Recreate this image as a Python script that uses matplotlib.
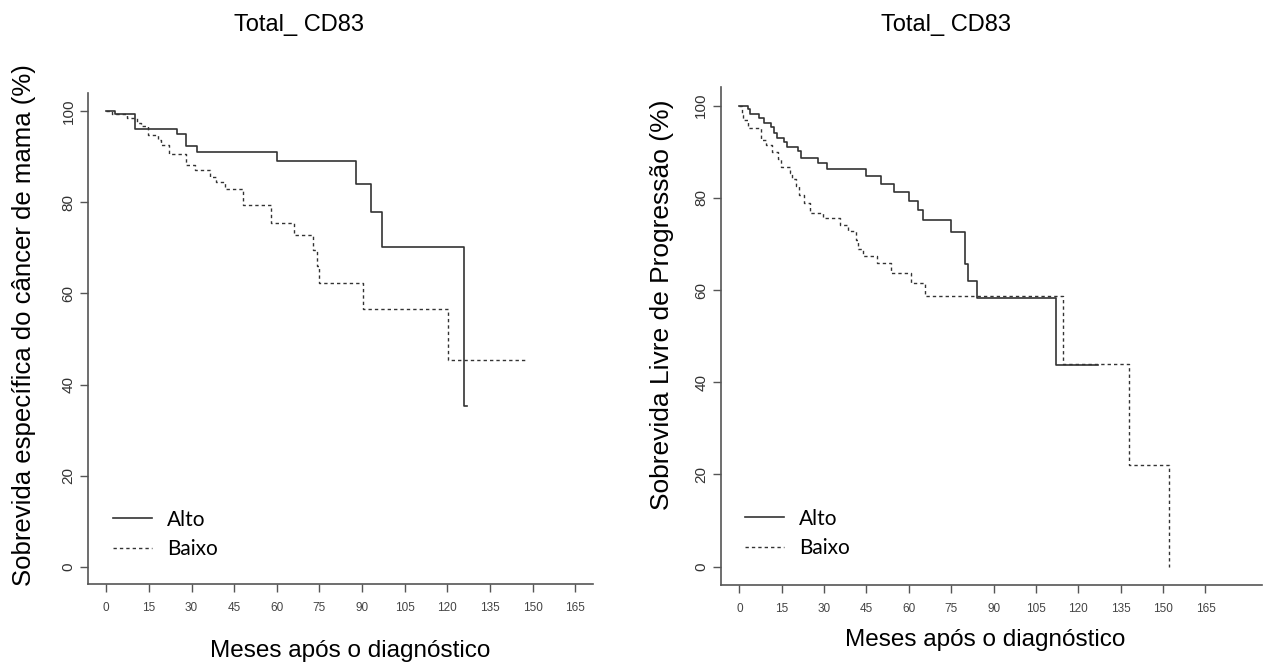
import matplotlib
matplotlib.use("Agg")
from matplotlib import pyplot as plt

# Kaplan-Meier steps (months, survival %)
css_alto_t = [0, 3, 10, 25, 28, 32, 60, 88, 93, 97, 126, 126.9]
css_alto_s = [100, 99.2, 96.0, 94.9, 92.3, 91.0, 88.9, 83.9, 77.9, 70.2, 35.3, 35.3]
css_baixo_t = [0, 2, 7.2, 10.7, 12.4, 14.7, 18.2, 19.4, 22.1, 28, 31.1, 36.4, 38.7,
               41.9, 48.1, 58.1, 66, 72.8, 74, 74.9, 90.2, 120.1, 147.2]
css_baixo_s = [100, 99.3, 98.4, 97.4, 96.6, 94.7, 93.6, 92.4, 90.6, 88.2, 87.1, 85.5, 84.3,
               82.8, 79.3, 75.5, 72.8, 69.5, 65.9, 62.3, 56.6, 45.4, 45.4]

pfs_alto_t = [0, 2.9, 3.8, 7.1, 8.9, 11.1, 12.1, 13.2, 15.8, 17.0, 20.9, 21.8, 28.0,
              31.2, 44.9, 50.1, 54.9, 60.1, 63.1, 65.0, 74.9, 80.0, 80.8, 84.1, 112.2, 127.0]
pfs_alto_s = [100, 99.2, 98.3, 97.3, 96.3, 95.3, 94.1, 93.1, 92.2, 91.0, 90.2, 88.7, 87.5,
              86.3, 84.8, 83.0, 81.3, 79.4, 77.4, 75.1, 72.5, 65.6, 62.0, 58.2, 43.8, 43.8]
pfs_baixo_t = [0, 0.8, 1.4, 2.9, 7.6, 9.6, 11.7, 13.7, 14.9, 17.8, 18.8, 20.2, 21.0, 22.8,
               24.9, 29.6, 35.5, 38.5, 41.4, 42.0, 43.8, 48.7, 53.8, 60.9, 65.6, 114.7, 138.0, 152.0]
pfs_baixo_s = [100, 98.0, 96.9, 95.1, 92.6, 91.5, 90.0, 88.4, 86.6, 85.3, 84.0, 82.6, 80.6, 78.9,
               76.7, 75.6, 74.1, 72.9, 70.9, 68.9, 67.5, 65.8, 63.8, 61.5, 58.7, 44.0, 22.1, 0]

xticks = list(range(0, 166, 15))
yticks = [0, 20, 40, 60, 80, 100]
groups = ["Alto", "Baixo"]
title = "Total_ CD83"
xlabel = "Meses após o diagnóstico"
ylabels = ["Sobrevida específica do câncer de mama (%)", "Sobrevida Livre de Progressão (%)"]

W, H = 1264, 667
plt.rcParams['font.family'] = ['Liberation Sans', 'DejaVu Sans']
fig = plt.figure(figsize=(W / 100, H / 100), dpi=100)


def px_axes(x0, y0, x1, y1):
    return fig.add_axes([x0 / W, 1 - y1 / H, (x1 - x0) / W, (y1 - y0) / H])


def km_panel(ax, alto, baixo, xlim, ylim, leg_xy):
    line_c = '#333333'
    ax.step(alto[0], alto[1], where='post', color=line_c, lw=1.2, label=groups[0])
    ax.step(baixo[0], baixo[1], where='post', color=line_c, lw=1.0,
            linestyle=(0, (2.4, 2.2)), label=groups[1])
    ax.set_xlim(*xlim)
    ax.set_ylim(*ylim)
    ax.set_xticks(xticks)
    ax.set_yticks(yticks)
    for s in ['top', 'right']:
        ax.spines[s].set_visible(False)
    for s in ['left', 'bottom']:
        ax.spines[s].set_color('#555555')
        ax.spines[s].set_linewidth(1.2)
    ax.tick_params(axis='both', direction='out', length=6, width=1, color='#555555')
    ax.tick_params(axis='x', labelsize=8.5, pad=7, labelcolor='#444444')
    ax.tick_params(axis='y', labelsize=11, pad=3, labelcolor='#333333')
    plt.setp(ax.get_yticklabels(), rotation=90, va='center')
    ax.legend(loc='lower left', bbox_to_anchor=leg_xy, borderaxespad=0, borderpad=0,
              frameon=False, prop={'family': 'Lato', 'size': 15},
              handlelength=1.85, handletextpad=0.75, labelspacing=0.45)


ax1 = px_axes(88, 93, 593, 584)
km_panel(ax1, (css_alto_t, css_alto_s), (css_baixo_t, css_baixo_s),
         (-6.4, 171.2), (-3.7, 103.9), (0.05, 0.051))
ax2 = px_axes(720.7, 87.3, 1262, 585)
km_panel(ax2, (pfs_alto_t, pfs_alto_s), (pfs_baixo_t, pfs_baixo_s),
         (-6.6, 185), (-4.0, 104.0), (0.045, 0.054))

fig.text(299 / W, 1 - 25 / H, title, ha='center', va='center', fontsize=17)
fig.text(946 / W, 1 - 25 / H, title, ha='center', va='center', fontsize=17)
fig.text(350 / W, 1 - 651 / H, xlabel, ha='center', va='center', fontsize=17.5)
fig.text(985 / W, 1 - 640 / H, xlabel, ha='center', va='center', fontsize=17.5)
fig.text(24 / W, 1 - 325 / H, ylabels[0], ha='center', va='center', rotation=90, fontsize=18.5)
fig.text(662 / W, 1 - 305 / H, ylabels[1], ha='center', va='center', rotation=90, fontsize=19)

fig.savefig("out.png", dpi=100)
